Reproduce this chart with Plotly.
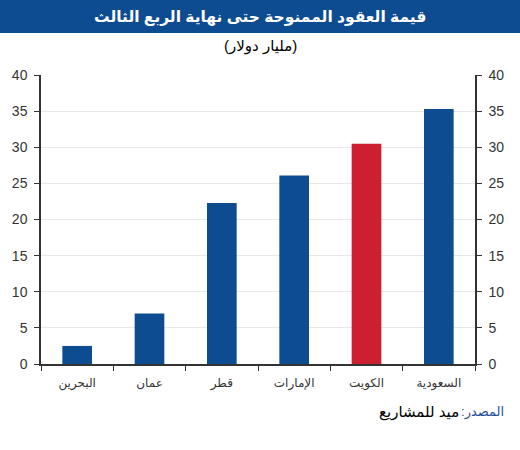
import plotly.graph_objects as go

categories = ["البحرين", "عمان", "قطر", "الإمارات", "الكويت", "السعودية"]
values = [2.5, 7.0, 22.3, 26.1, 30.5, 35.3]
bar_colors = ["#0E4C92", "#0E4C92", "#0E4C92", "#0E4C92", "#CC2031", "#0E4C92"]
tick_vals = [0, 5, 10, 15, 20, 25, 30, 35, 40]

title = "قيمة العقود الممنوحة حتى نهاية الربع الثالث"
subtitle = "(مليار دولار)"
source_label = ":المصدر"
source_text = "ميد للمشاريع"

W, H = 520, 450
ML, MR, MT, MB = 41, 45, 75, 86
PW, PH = W - ML - MR, H - MT - MB

def px(x):
    return (x - ML) / PW

def py(y_top):
    return (H - MB - y_top) / PH

FONT = "Liberation Sans, Arial, DejaVu Sans, sans-serif"

fig = go.Figure()
fig.add_trace(go.Bar(x=categories, y=values, marker_color=bar_colors,
                     marker_line_width=0, width=0.41, showlegend=False))
fig.add_trace(go.Scatter(x=categories, y=values, yaxis="y2", mode="none",
                         showlegend=False, hoverinfo="skip"))

axis_common = dict(range=[0, 40], tickvals=tick_vals, showline=True, linecolor="#333333",
                   linewidth=1.5, ticks="outside", ticklen=5, tickcolor="#333333",
                   ticklabelstandoff=4,
                   tickfont=dict(family=FONT, size=14, color="#333333"), zeroline=False)

fig.update_layout(
    width=W, height=H,
    margin=dict(l=ML, r=MR, t=MT, b=MB),
    paper_bgcolor="white", plot_bgcolor="white",
    xaxis=dict(type="category", range=[-0.5, 5.5], tickson="boundaries", ticks="outside",
               ticklen=5, tickcolor="#333333", showline=True, linecolor="#333333", linewidth=1.5,
               ticklabelstandoff=7,
               tickfont=dict(family=FONT, size=12, color="#333333"), showgrid=False),
    yaxis=dict(side="left", showgrid=True, gridcolor="#E8E8E8", gridwidth=1, **axis_common),
    yaxis2=dict(side="right", overlaying="y", showgrid=False, **axis_common),
    shapes=[dict(type="rect", xref="paper", yref="paper", x0=px(0), x1=px(W),
                 y0=py(33), y1=py(0), fillcolor="#0E4C92", line_width=0, layer="below")],
    annotations=[
        dict(text="<b>" + title + "</b>", xref="paper", yref="paper", x=px(W / 2), y=py(17),
             showarrow=False, xanchor="center", yanchor="middle",
             font=dict(family=FONT, size=15.5, color="white")),
        dict(text=subtitle, xref="paper", yref="paper", x=px(W / 2), y=py(46),
             showarrow=False, xanchor="center", yanchor="middle",
             font=dict(family=FONT, size=15, color="black")),
        dict(text=source_label, xref="paper", yref="paper", x=px(506), y=py(412),
             showarrow=False, xanchor="right", yanchor="middle",
             font=dict(family=FONT, size=13, color="#1F4E9A")),
        dict(text=source_text, xref="paper", yref="paper", x=px(461), y=py(412),
             showarrow=False, xanchor="right", yanchor="middle",
             font=dict(family=FONT, size=15, color="black")),
    ],
)

fig.write_html("out.html")
